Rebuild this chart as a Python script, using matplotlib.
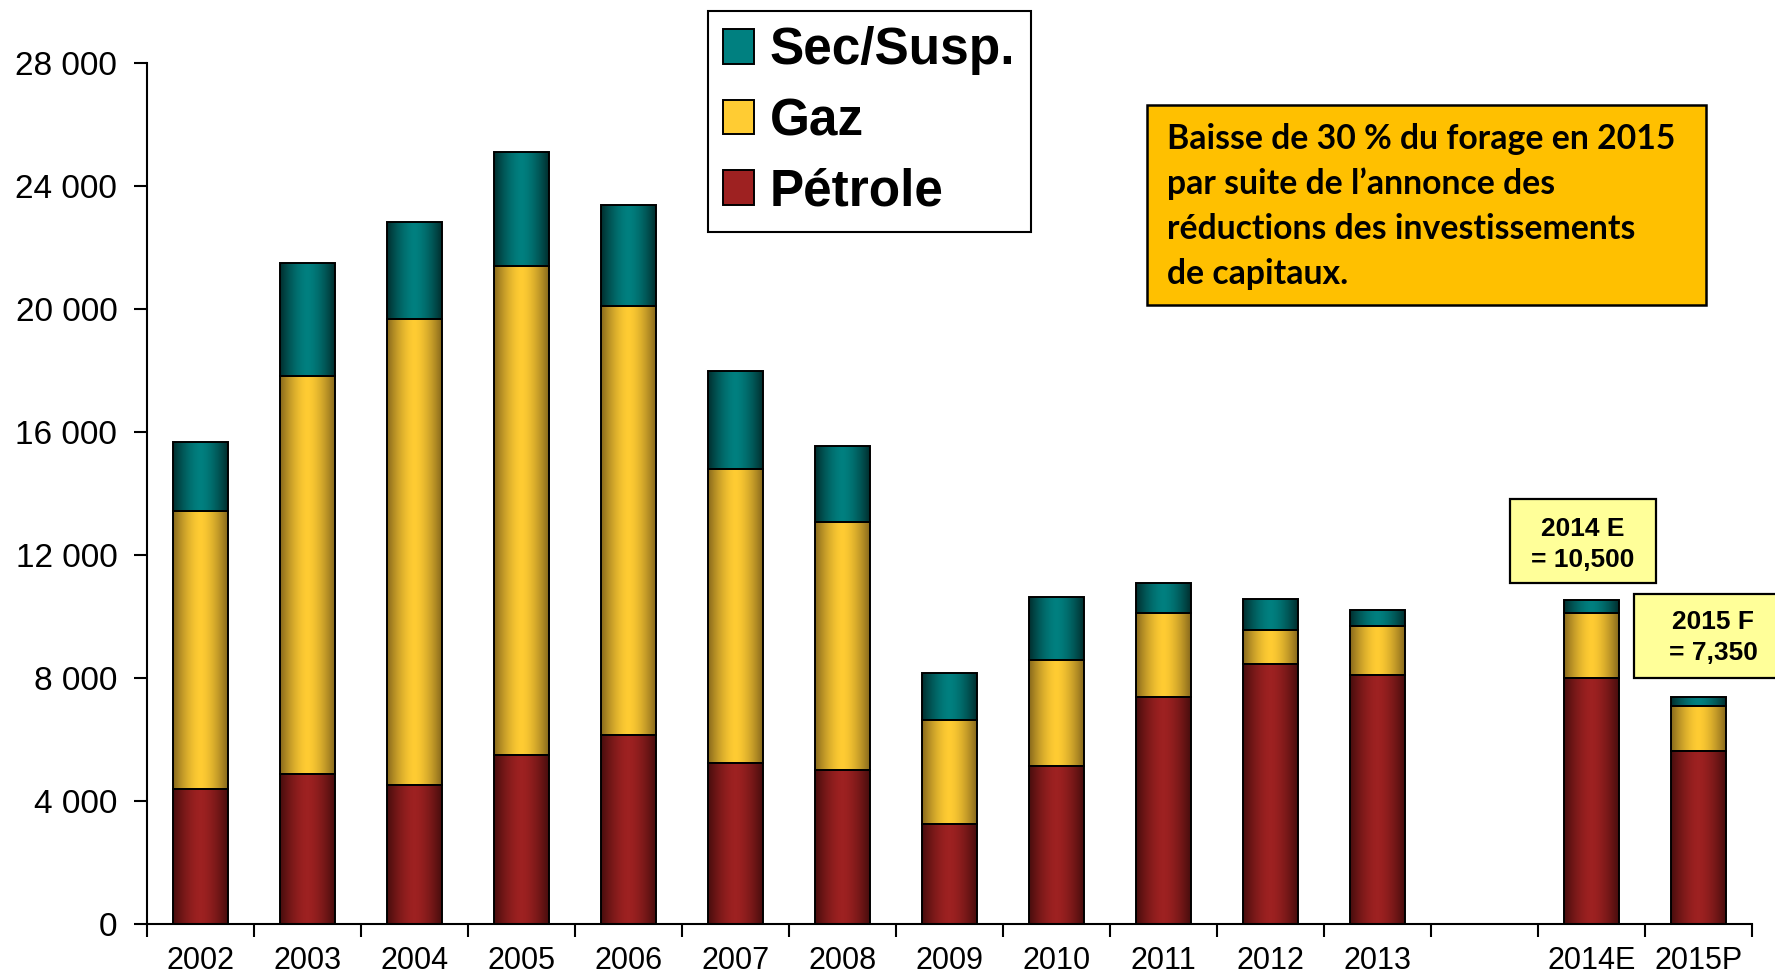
import numpy as np
import matplotlib
matplotlib.use('Agg')
import matplotlib.pyplot as plt
from matplotlib.patches import Rectangle, Patch
from matplotlib.ticker import FuncFormatter, FixedLocator
from matplotlib.font_manager import FontProperties

# ---------------- data ----------------
categories = ['2002', '2003', '2004', '2005', '2006', '2007', '2008', '2009',
              '2010', '2011', '2012', '2013', '', '2014E', '2015P']
petrole = [4380, 4870, 4510, 5500, 6140, 5220, 4990, 3250, 5140, 7380, 8435, 8085,
           np.nan, 8000, 5630]
gaz = [9040, 12950, 15145, 15900, 13940, 9580, 8060, 3360, 3435, 2735, 1115, 1605,
       np.nan, 2110, 1460]
sec_susp = [2235, 3660, 3165, 3705, 3290, 3165, 2475, 1550, 2050, 975, 1000, 510,
            np.nan, 415, 290]
series_labels = ['Pétrole', 'Gaz', 'Sec/Susp.']
y_ticks = [0, 4000, 8000, 12000, 16000, 20000, 24000, 28000]
note_text = ("Baisse de 30 % du forage en 2015\npar suite de l’annonce des\n"
             "réductions des investissements\nde capitaux.")
label_2014 = "2014 E\n= 10,500"
label_2015 = "2015 F\n= 7,350"

# ---------------- style ----------------
center_cols = {'Pétrole': (0.62, 0.13, 0.13), 'Gaz': (1.0, 0.80, 0.20),
               'Sec/Susp.': (0.0, 0.50, 0.50)}
edge_cols = {'Pétrole': (0.28, 0.05, 0.05), 'Gaz': (0.53, 0.41, 0.11),
             'Sec/Susp.': (0.0, 0.18, 0.18)}

W, H = 1775, 980
fig = plt.figure(figsize=(W / 100, H / 100), dpi=100)
ax = fig.add_axes([147 / W, 1 - 923.7 / H, (1752 - 147) / W, (923.7 - 62.7) / H])


def gradient(name, n=96):
    t = np.linspace(0, 1, n)
    m = np.clip(np.abs(t - 0.5) / 0.5, 0, 1) ** 1.6
    c = np.array(center_cols[name])
    e = np.array(edge_cols[name])
    img = c[None, :] * (1 - m[:, None]) + e[None, :] * m[:, None]
    return img[None, :, :]


x = np.arange(len(categories))
bottom = np.zeros(len(x))
for name, vals in zip(series_labels, [petrole, gaz, sec_susp]):
    v = np.array(vals, dtype=float)
    mask = ~np.isnan(v)
    bars = ax.bar(x[mask], v[mask], width=0.51, bottom=bottom[mask],
                  facecolor='none', edgecolor='black', linewidth=1.4, zorder=3)
    img = gradient(name)
    for b in bars:
        bx, by = b.get_x(), b.get_y()
        bw, bh = b.get_width(), b.get_height()
        im = ax.imshow(img, extent=[bx, bx + bw, by, by + bh], aspect='auto',
                       interpolation='bilinear', zorder=2)
        im.set_clip_path(b)
    bottom[mask] += v[mask]

ax.set_xlim(-0.5, len(categories) - 0.5)
ax.set_ylim(0, 28000)

for s in ['top', 'right']:
    ax.spines[s].set_visible(False)
for s in ['left', 'bottom']:
    ax.spines[s].set_linewidth(1.5)
    ax.spines[s].set_color('black')

ax.set_yticks(y_ticks)
ax.yaxis.set_major_formatter(FuncFormatter(lambda v, p: f"{int(v):,}".replace(',', ' ')))
ax.tick_params(axis='y', direction='out', length=9.4, width=1.5, pad=12,
               labelsize=24)
ax.set_xticks(x)
ax.set_xticklabels(categories)
ax.xaxis.set_minor_locator(FixedLocator(np.arange(-0.5, len(categories), 1.0)))
ax.tick_params(axis='x', which='major', length=0, pad=16, labelsize=22)
ax.tick_params(axis='x', which='minor', direction='out', length=9.4, width=1.5)
for lab in ax.get_xticklabels() + ax.get_yticklabels():
    lab.set_fontfamily('Liberation Sans')

# ---------------- legend ----------------
handles = [Patch(facecolor=center_cols[n], edgecolor='black', linewidth=1.4)
           for n in ['Sec/Susp.', 'Gaz', 'Pétrole']]
leg = fig.legend(handles, ['Sec/Susp.', 'Gaz', 'Pétrole'], loc='upper left',
                 bbox_to_anchor=(708 / W, 1 - 11 / H), bbox_transform=fig.transFigure,
                 prop=FontProperties(family='Liberation Sans', weight='bold', size=37),
                 frameon=True, fancybox=False, shadow=False, borderaxespad=0,
                 handlelength=0.6, handleheight=0.66, handletextpad=0.3,
                 borderpad=0.3, labelspacing=0.42)
leg.get_frame().set_edgecolor('black')
leg.get_frame().set_linewidth(1.5)
leg.get_frame().set_alpha(None)
leg.get_frame().set_facecolor('white')

# ---------------- annotation box ----------------
fig.patches.append(Rectangle((1147 / W, 1 - 305 / H), (1706 - 1147) / W, (305 - 105) / H,
                             transform=fig.transFigure, facecolor='#FFC000',
                             edgecolor='black', linewidth=1.8, zorder=5))
lines = note_text.split('\n')
fp = FontProperties(family='Lato', weight='bold', size=22)
probe = fig.text(0, 0, lines[0], fontproperties=fp)
renderer = fig.canvas.get_renderer()
wpx = probe.get_window_extent(renderer).width
probe.remove()
size = 22 * 507.0 / wpx
baselines = [149, 194, 239, 284]
for ln, by in zip(lines, baselines):
    fig.text(1167 / W, 1 - by / H, ln, ha='left', va='baseline', zorder=6,
             fontproperties=FontProperties(family='Lato', weight='bold', size=size))

# ---------------- small value boxes ----------------
for (l, t, r, b), txt, cx, bls in [
        ((1510, 499, 1656, 583), label_2014, 1583, [536, 567]),
        ((1634, 594, 1795, 678), label_2015, 1713, [629, 660])]:
    fig.patches.append(Rectangle((l / W, 1 - b / H), (r - l) / W, (b - t) / H,
                                 transform=fig.transFigure, facecolor='#FFFF99',
                                 edgecolor='black', linewidth=1.6, zorder=5))
    for ln, by in zip(txt.split('\n'), bls):
        fig.text(cx / W, 1 - by / H, ln, ha='center', va='baseline', zorder=6,
                 family='Liberation Sans', weight='bold', size=19)

fig.savefig('out.png', dpi=100)
